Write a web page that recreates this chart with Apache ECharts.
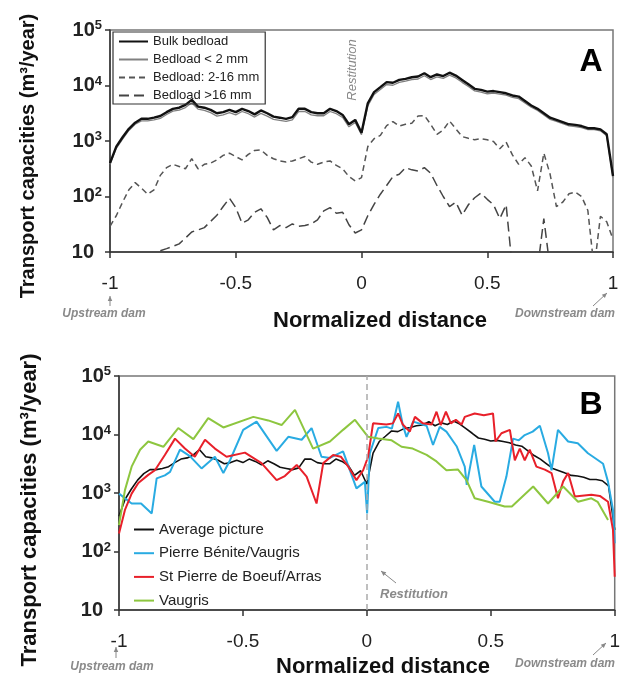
<!DOCTYPE html>
<html>
<head>
<meta charset="utf-8">
<script src="https://cdn.jsdelivr.net/npm/echarts@6/dist/echarts.min.js"></script>
<style>
  html, body { margin: 0; padding: 0; background: #fff; }
  #chart { width: 623px; height: 683px; }
</style>
</head>
<body>
<div id="chart"></div>
<script>
var chart = echarts.init(document.getElementById('chart'));
var FONT = '"Liberation Sans", Arial, sans-serif';

// panel A: normalized distance, sampled every 0.025
var xTop = [-1, -0.975, -0.95, -0.925, -0.9, -0.875, -0.85, -0.825, -0.8, -0.775,
  -0.75, -0.725, -0.7, -0.675, -0.65, -0.625, -0.6, -0.575, -0.55, -0.525,
  -0.5, -0.475, -0.45, -0.425, -0.4, -0.375, -0.35, -0.325, -0.3, -0.275,
  -0.25, -0.225, -0.2, -0.175, -0.15, -0.125, -0.1, -0.075, -0.05, -0.025,
  0, 0.025, 0.05, 0.075, 0.1, 0.125, 0.15, 0.175, 0.2, 0.225,
  0.25, 0.275, 0.3, 0.325, 0.35, 0.375, 0.4, 0.425, 0.45, 0.475,
  0.5, 0.525, 0.55, 0.575, 0.6, 0.625, 0.65, 0.675, 0.7, 0.725,
  0.75, 0.775, 0.8, 0.825, 0.85, 0.875, 0.9, 0.925, 0.95, 0.975, 1];

// transport capacities (m3/year)
var bulk = [400, 790, 1170, 1660, 2140, 2510, 2510, 2630, 2820, 3310,
  3800, 3980, 4470, 5500, 4170, 3980, 3630, 3160, 3310, 3630,
  3310, 3800, 3470, 3020, 3550, 3160, 2750, 2630, 2510, 2690,
  3800, 3800, 3310, 3160, 3160, 3800, 3470, 2950, 2000, 2400,
  1410, 4790, 7590, 9330, 11500, 11200, 12600, 13200, 14100, 14500,
  16600, 14100, 15800, 14800, 17000, 15100, 12600, 10500, 8710, 8320,
  7760, 7940, 7590, 7240, 6610, 6310, 5250, 4370, 3800, 3160,
  2630, 2400, 2190, 2000, 1950, 1860, 1700, 1700, 1620, 1320, 234];
var fine = [380, 740, 1080, 1550, 2000, 2300, 2300, 2400, 2550, 3000,
  3450, 3600, 4000, 4900, 3750, 3550, 3250, 2800, 2950, 3250,
  2950, 3400, 3100, 2700, 3150, 2800, 2450, 2350, 2250, 2400,
  3400, 3400, 2950, 2850, 2850, 3400, 3100, 2650, 1800, 2150,
  1300, 4300, 6900, 8500, 10400, 10100, 11400, 12000, 12800, 13100,
  15000, 12800, 14300, 13400, 15400, 13700, 11400, 9600, 8000, 7600,
  7100, 7300, 7000, 6700, 6100, 5800, 4850, 4050, 3550, 2950,
  2450, 2250, 2050, 1870, 1820, 1740, 1600, 1600, 1530, 1250, 220];
var medium = [29, 45, 79, 132, 178, 141, 110, 132, 240, 331,
  380, 347, 316, 479, 316, 380, 398, 457, 550, 603,
  525, 457, 575, 676, 692, 550, 479, 437, 417, 437,
  479, 525, 417, 380, 417, 437, 363, 316, 229, 191,
  219, 794, 1100, 1260, 1900, 2240, 1860, 2000, 2090, 2820,
  2880, 2000, 1320, 1580, 2290, 1660, 1200, 1120, 1050, 1100,
  1050, 977, 724, 955, 562, 380, 501, 355, 126, 603,
  251, 66, 79, 112, 120, 100, 56, 5, 44, 35, 17];
var coarse = [null, null, null, null, null, null, null, null, 10.5, 11.5,
  12.6, 14, 17.8, 23, 25, 27.5, 35.5, 46, 66, 93,
  63, 33, 38, 52, 60, 42, 25, 30, 27.5, 32,
  29, 30, 32, 38, 55, 63, 50, 52, 31, 22,
  25, 45, 72, 110, 158, 229, 251, 331, 302, 288,
  331, 263, 158, 100, 66, 79, 46, 71, 95, 115,
  89, 71, 40, 71, 5, null, null, null, 5, 40,
  5, null, null, null, null, null, null, null, null, null, null];

// panel B
var average = bulk;
var blueX = [-1, -0.949, -0.911, -0.868, -0.848, -0.815, -0.794, -0.754, -0.714, -0.667,
  -0.613, -0.579, -0.552, -0.499, -0.445, -0.398, -0.364, -0.317, -0.263, -0.223,
  -0.183, -0.149, -0.096, -0.042, -0.008, 0.001, 0.012, 0.046, 0.079, 0.101,
  0.126, 0.145, 0.16, 0.187, 0.241, 0.267, 0.294, 0.321, 0.362, 0.395,
  0.403, 0.433, 0.462, 0.516, 0.536, 0.563, 0.59, 0.613, 0.637, 0.669,
  0.698, 0.731, 0.745, 0.771, 0.812, 0.851, 0.892, 0.933, 0.953, 0.973, 0.993, 1];
var blueY = [977, 661, 661, 447, 1780, 2000, 2290, 5500, 4270, 2630,
  4170, 2190, 3630, 12000, 16600, 8510, 5250, 9120, 8130, 12900,
  4170, 3980, 5130, 1200, 1550, 447, 4790, 12900, 13500, 12600,
  36300, 14500, 9120, 16600, 14100, 6610, 13500, 11200, 6310, 2820,
  1380, 6610, 1290, 708, 708, 1910, 8510, 7940, 9770, 11200,
  14100, 4790, 2450, 12000, 7590, 7080, 4790, 3630, 3160, 1550, 513, 138];
var redX = [-1, -0.976, -0.949, -0.922, -0.882, -0.855, -0.815, -0.774, -0.734, -0.694,
  -0.653, -0.613, -0.566, -0.492, -0.425, -0.364, -0.331, -0.283, -0.243, -0.203,
  -0.176, -0.136, -0.105, -0.075, -0.042, -0.015, 0.005, 0.025, 0.079, 0.105,
  0.126, 0.145, 0.173, 0.194, 0.226, 0.261, 0.281, 0.298, 0.319, 0.339,
  0.359, 0.382, 0.395, 0.435, 0.472, 0.509, 0.519, 0.543, 0.577, 0.597,
  0.617, 0.637, 0.657, 0.684, 0.718, 0.745, 0.771, 0.792, 0.812, 0.839,
  0.906, 0.94, 0.973, 0.993, 1];
var redY = [204, 513, 977, 1480, 2040, 2450, 4470, 8510, 5750, 4170,
  8130, 5750, 4170, 4900, 3240, 1660, 1950, 3020, 1910, 661,
  3240, 4470, 4170, 2820, 1660, 2450, 4170, 15500, 14800, 15500,
  22900, 14800, 11200, 20000, 15500, 14800, 24500, 14500, 24500, 15500,
  17800, 14800, 20000, 22900, 21400, 22900, 7590, 10500, 12000, 3630,
  5750, 3630, 5500, 2820, 2510, 2190, 813, 1580, 2190, 871,
  933, 891, 708, 234, 37];
var greenX = [-1, -0.976, -0.949, -0.915, -0.882, -0.821, -0.761, -0.7, -0.64, -0.579,
  -0.458, -0.398, -0.344, -0.29, -0.217, -0.149, -0.096, -0.048, 0.005, 0.046,
  0.1, 0.14, 0.185, 0.241, 0.281, 0.321, 0.368, 0.402, 0.435, 0.489,
  0.556, 0.585, 0.671, 0.731, 0.792, 0.852, 0.906, 0.931, 0.973];
var greenY = [282, 1120, 2820, 5500, 7590, 6170, 12900, 8320, 19100, 13200,
  20000, 17400, 14500, 26300, 5750, 7590, 12000, 17800, 9120, 8510,
  7940, 6170, 5750, 4470, 3470, 2450, 2510, 1660, 813, 708,
  589, 589, 1290, 661, 1290, 708, 813, 708, 347];

function pairs(xs, ys) {
  return xs.map(function (x, i) {
    return [x, ys[i] == null ? '-' : ys[i]];
  });
}

function yLabel(v) {
  var e = Math.round(Math.log10(v));
  return e === 1 ? '{b|10}{p|}' : '{b|10}{s|' + e + '}';
}

function xAxisCfg(idx) {
  return {
    gridIndex: idx, type: 'value', min: -1, max: 1, interval: 0.5,
    axisLine: { onZero: false, lineStyle: { color: '#333', width: 1.5 } },
    axisTick: { length: 6, lineStyle: { color: '#333', width: 1.5 } },
    axisLabel: { margin: 22, fontSize: 19, color: '#222', fontFamily: FONT },
    splitLine: { show: false }
  };
}

function yAxisCfg(idx) {
  return {
    gridIndex: idx, type: 'log', logBase: 10, min: 10, max: 100000,
    axisLine: { show: true, onZero: false, lineStyle: { color: '#333', width: 1.5 } },
    axisTick: { show: true, length: 5, lineStyle: { color: '#333', width: 1.5 } },
    minorTick: { show: false },
    splitLine: { show: false },
    axisLabel: {
      margin: 8, formatter: yLabel,
      rich: {
        b: { fontSize: 20, fontWeight: 'bold', color: '#222', fontFamily: FONT, lineHeight: 22 },
        s: { fontSize: 13, fontWeight: 'bold', color: '#222', fontFamily: FONT, lineHeight: 13, verticalAlign: 'top' },
        p: { width: 8 }
      }
    }
  };
}

function arrow(x1, y1, x2, y2) {
  var a = Math.atan2(y2 - y1, x2 - x1), s = 5;
  return {
    type: 'group', children: [
      { type: 'line', shape: { x1: x1, y1: y1, x2: x2, y2: y2 }, style: { stroke: '#888', lineWidth: 1 } },
      { type: 'polygon', shape: { points: [[x2, y2],
        [x2 - s * Math.cos(a) + s * 0.45 * Math.sin(a), y2 - s * Math.sin(a) - s * 0.45 * Math.cos(a)],
        [x2 - s * Math.cos(a) - s * 0.45 * Math.sin(a), y2 - s * Math.sin(a) + s * 0.45 * Math.cos(a)]] },
        style: { fill: '#888' } }
    ]
  };
}

function label(text, x, y, font, color, rot, align) {
  return {
    type: 'text', x: x, y: y, rotation: rot || 0,
    style: {
      text: text, font: font, fill: color,
      align: align || 'center', textAlign: align || 'center',
      verticalAlign: 'middle', textVerticalAlign: 'middle'
    }
  };
}

var option = {
  animation: false,
  backgroundColor: '#fff',
  grid: [
    { left: 110, top: 30, width: 503, height: 222, show: true, borderColor: '#777', borderWidth: 1.5 },
    { left: 119, top: 376, width: 496, height: 234, show: true, borderColor: '#777', borderWidth: 1.5 }
  ],
  xAxis: [xAxisCfg(0), xAxisCfg(1)],
  yAxis: [yAxisCfg(0), yAxisCfg(1)],
  legend: [
    {
      data: ['Bulk bedload', 'Bedload < 2 mm', 'Bedload: 2-16 mm', 'Bedload >16 mm'],
      orient: 'vertical', left: 113, top: 32, padding: [3, 6, 2, 5],
      itemWidth: 29, itemHeight: 12, itemGap: 5,
      itemStyle: { opacity: 0 },
      borderColor: '#333', borderWidth: 1.2, selectedMode: false,
      textStyle: { fontSize: 13, color: '#222', fontFamily: FONT }
    },
    {
      data: ['Average picture', 'Pierre Bénite/Vaugris', 'St Pierre de Boeuf/Arras', 'Vaugris'],
      orient: 'vertical', left: 133, top: 522, padding: 0,
      itemWidth: 20, itemHeight: 14, itemGap: 8.7, selectedMode: false,
      itemStyle: { opacity: 0 },
      textStyle: { fontSize: 15, color: '#222', fontFamily: FONT }
    }
  ],
  series: [
    { name: 'Bedload < 2 mm', type: 'line', xAxisIndex: 0, yAxisIndex: 0, symbol: 'none',
      data: pairs(xTop, fine), lineStyle: { color: '#808080', width: 1.3 }, itemStyle: { color: '#808080' } },
    { name: 'Bulk bedload', type: 'line', xAxisIndex: 0, yAxisIndex: 0, symbol: 'none',
      data: pairs(xTop, bulk), lineStyle: { color: '#111', width: 2.4 }, itemStyle: { color: '#111' } },
    { name: 'Bedload: 2-16 mm', type: 'line', xAxisIndex: 0, yAxisIndex: 0, symbol: 'none',
      data: pairs(xTop, medium), lineStyle: { color: '#555', width: 1.5, type: [6, 4] }, itemStyle: { color: '#555' } },
    { name: 'Bedload >16 mm', type: 'line', xAxisIndex: 0, yAxisIndex: 0, symbol: 'none',
      data: pairs(xTop, coarse), lineStyle: { color: '#444', width: 1.5, type: [10, 5] }, itemStyle: { color: '#444' } },

    { name: 'Average picture', type: 'line', xAxisIndex: 1, yAxisIndex: 1, symbol: 'none',
      data: pairs(xTop, average), lineStyle: { color: '#111', width: 1.6 }, itemStyle: { color: '#111' },
      markLine: { silent: true, symbol: ['none', 'none'], label: { show: false },
        lineStyle: { type: [6, 4], color: '#aaa', width: 1.5 }, data: [{ xAxis: 0 }] } },
    { name: 'Pierre Bénite/Vaugris', type: 'line', xAxisIndex: 1, yAxisIndex: 1, symbol: 'none',
      data: pairs(blueX, blueY), lineStyle: { color: '#29abe2', width: 2 }, itemStyle: { color: '#29abe2' } },
    { name: 'St Pierre de Boeuf/Arras', type: 'line', xAxisIndex: 1, yAxisIndex: 1, symbol: 'none',
      data: pairs(redX, redY), lineStyle: { color: '#e8202a', width: 2 }, itemStyle: { color: '#e8202a' } },
    { name: 'Vaugris', type: 'line', xAxisIndex: 1, yAxisIndex: 1, symbol: 'none',
      data: pairs(greenX, greenY), lineStyle: { color: '#8dc63f', width: 2 }, itemStyle: { color: '#8dc63f' } }
  ],
  graphic: [
    label('Transport capacities (m³/year)', 28, 156, 'bold 20px ' + FONT, '#111', Math.PI / 2),
    label('Transport capacities (m³/year)', 30, 510, 'bold 22px ' + FONT, '#111', Math.PI / 2),
    label('Normalized distance', 380, 321, 'bold 22px ' + FONT, '#111'),
    label('Normalized distance', 383, 667, 'bold 22px ' + FONT, '#111'),
    label('A', 591, 62, 'bold 32px ' + FONT, '#000'),
    label('B', 591, 405, 'bold 32px ' + FONT, '#000'),
    label('Restitution', 352, 70, 'italic 13px ' + FONT, '#888', Math.PI / 2),
    label('Restitution', 380, 594, 'italic bold 13px ' + FONT, '#8a8a8a', 0, 'left'),
    label('Upstream dam', 104, 314, 'italic bold 12px ' + FONT, '#8a8a8a'),
    label('Upstream dam', 112, 667, 'italic bold 12px ' + FONT, '#8a8a8a'),
    label('Downstream dam', 565, 314, 'italic bold 12px ' + FONT, '#8a8a8a'),
    label('Downstream dam', 565, 664, 'italic bold 12px ' + FONT, '#8a8a8a'),
    arrow(110, 306, 110, 296),
    arrow(116, 658, 116, 647),
    arrow(593, 306, 607, 293),
    arrow(593, 655, 606, 643),
    arrow(396, 583, 381, 571)
  ]
};

chart.setOption(option);
</script>
</body>
</html>
